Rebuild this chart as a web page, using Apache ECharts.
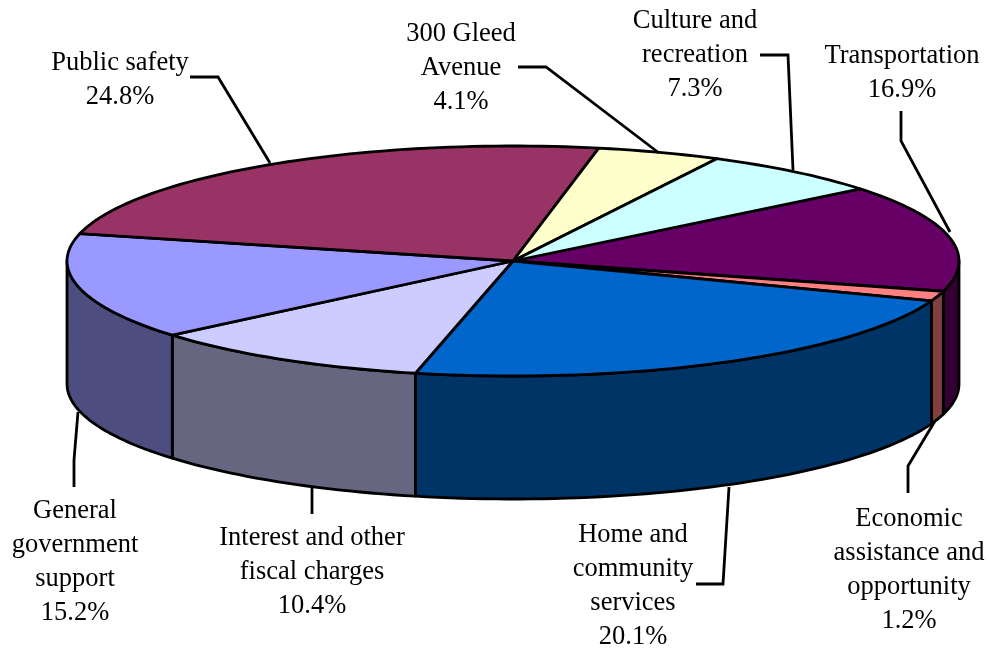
<!DOCTYPE html>
<html>
<head>
<meta charset="utf-8">
<script src="https://cdn.jsdelivr.net/npm/echarts@6/dist/echarts.min.js"></script>
<style>html,body{margin:0;padding:0;background:#fff}#c{width:989px;height:650px}</style>
</head>
<body>
<div id="c"></div>
<script>
// Data, clockwise from the Transportation slice
var categories = ['Transportation', 'Economic assistance and opportunity', 'Home and community services',
  'Interest and other fiscal charges', 'General government support', 'Public safety', '300 Gleed Avenue', 'Culture and recreation'];
var labelLines = [['Transportation'], ['Economic', 'assistance and', 'opportunity'], ['Home and', 'community', 'services'],
  ['Interest and other', 'fiscal charges'], ['General', 'government', 'support'], ['Public safety'], ['300 Gleed', 'Avenue'], ['Culture and', 'recreation']];
var values = [16.9, 1.2, 20.1, 10.4, 15.2, 24.8, 4.1, 7.3];
var topColors = ['#660066', '#FF8080', '#0066CC', '#CCCCFF', '#9999FF', '#993366', '#FFFFCC', '#CCFFFF'];
var wallColors = ['#330033', '#804040', '#003366', '#666680', '#4D4D80', '#4D1A33', '#808066', '#668080'];

// Layout of the tilted pie
var CX = 513, CY = 261, RX = 446, RY = 115, DEPTH = 123, START = -39.2;
var LINE = 2.8, FONT = '26.5px "Liberation Serif", serif', LINE_H = 34;
// Label centre (x, y of block centre) and leader-line route
var labelLayout = [
  { x: 902, y: 73.5, leader: [[901, 111], [901, 141], [950, 232]] },
  { x: 909, y: 570, leader: [[908, 493], [908, 466], [935, 421]] },
  { x: 633, y: 586.5, leader: [[696, 584], [723, 584], [729, 487]] },
  { x: 312, y: 572, leader: [[312, 514], [312, 487]] },
  { x: 75,  y: 562.5, leader: [[74, 487], [74, 460], [78, 412]] },
  { x: 120, y: 80.5, leader: [[190, 77], [218, 77], [270, 163]] },
  { x: 461, y: 68, leader: [[518, 67], [546, 67], [659, 153]] },
  { x: 695, y: 55.5, leader: [[760, 55], [788, 55], [793, 170]] }
];

// Camera perspective: shifts true pie angles to the angle seen on screen
var warpConst = 0.387;
var warpCos = [-3.241, -1.744, -2.633];
var warpSin = [1.793, -2.303, -0.515];
function warp(t) {
  var r = t * Math.PI / 180, s = t + warpConst;
  for (var k = 0; k < 3; k++) s += warpCos[k] * Math.cos((k + 1) * r) + warpSin[k] * Math.sin((k + 1) * r);
  return s;
}
function rim(a, dy) {
  return [CX + RX * Math.cos(a * Math.PI / 180), CY + RY * Math.sin(a * Math.PI / 180) + (dy || 0)];
}
function arc(a, b, dy) {
  var n = Math.max(2, Math.ceil(Math.abs(b - a) / 1.5)), pts = [];
  for (var i = 0; i <= n; i++) pts.push(rim(a + (b - a) * i / n, dy));
  return pts;
}
var total = values.reduce(function (s, v) { return s + v; }, 0);
function sliceAngles(i) {
  var before = 0;
  for (var k = 0; k < i; k++) before += values[k];
  return [warp(START + 360 * before / total), warp(START + 360 * (before + values[i]) / total)];
}

function renderSlice(params, api) {
  var i = params.dataIndex, ang = sliceAngles(i), a = ang[0], b = ang[1], children = [];
  // Front wall: the parts of the rim facing the viewer (0..180 degrees, and 360..540)
  [[0, 180], [360, 540]].forEach(function (win) {
    var lo = Math.max(a, win[0]), hi = Math.min(b, win[1]);
    if (hi > lo) {
      children.push({
        type: 'polygon',
        shape: { points: arc(lo, hi, 0).concat(arc(hi, lo, DEPTH)) },
        style: { fill: wallColors[i], stroke: '#000', lineWidth: LINE, lineJoin: 'round' }
      });
    }
  });
  // Top face
  children.push({
    type: 'polygon',
    shape: { points: [[CX, CY]].concat(arc(a, b, 0)) },
    style: { fill: topColors[i], stroke: '#000', lineWidth: LINE, lineJoin: 'round' }
  });
  return { type: 'group', children: children };
}

function renderLabel(params, api) {
  var i = params.dataIndex, l = labelLayout[i];
  return {
    type: 'group',
    children: [{
      type: 'polyline',
      shape: { points: l.leader },
      style: { fill: null, stroke: '#000', lineWidth: LINE, lineJoin: 'miter' }
    }, {
      type: 'text',
      style: {
        x: l.x, y: l.y, align: 'center', verticalAlign: 'middle',
        text: labelLines[i].concat(values[i].toFixed(1) + '%').join('\n'),
        font: FONT, lineHeight: LINE_H, fill: '#000'
      }
    }]
  };
}

var data = values.map(function (v, i) { return { name: categories[i], value: v }; });
var chart = echarts.init(document.getElementById('c'), null, { renderer: 'canvas' });
chart.setOption({
  animation: false,
  backgroundColor: '#fff',
  tooltip: { show: false },
  series: [
    { type: 'custom', name: 'slices', coordinateSystem: 'none', silent: true, renderItem: renderSlice, data: data, z: 1 },
    { type: 'custom', name: 'labels', coordinateSystem: 'none', silent: true, renderItem: renderLabel, data: data, z: 2 }
  ]
});
</script>
</body>
</html>
